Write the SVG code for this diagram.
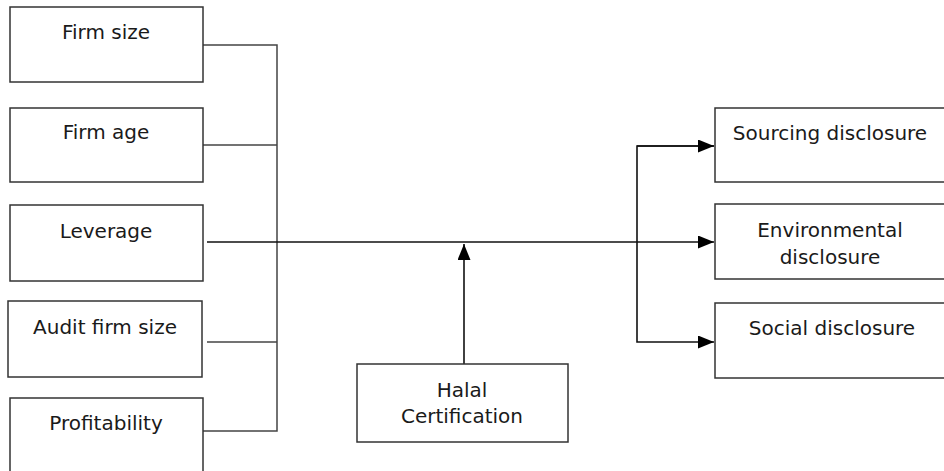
<svg xmlns="http://www.w3.org/2000/svg" width="944" height="471" viewBox="0 0 944 471">
<style>
.box{fill:#fff;stroke:#333;stroke-width:1.5}
.lbl{font-family:"DejaVu Sans",Verdana,sans-serif;font-size:20px;fill:#1a1a1a;text-anchor:middle}
.ln{fill:none;stroke:#444;stroke-width:1.5}
.ar{fill:none;stroke:#111;stroke-width:1.6}
</style>
<defs>
<marker id="ahb" viewBox="0 0 16 13" refX="16" refY="6.5" markerWidth="16" markerHeight="13" markerUnits="userSpaceOnUse" orient="auto">
<path d="M0,0 L16,6.5 L0,13 Z" fill="#000"/>
</marker>
</defs>
<rect width="944" height="471" fill="#fff"/>
<g id="connectors">
<path class="ln" d="M203,45 H277 V431 H203"/>
<path class="ln" d="M203,145 H277"/>
<path class="ln" d="M207,342 H277"/>
<path class="ar" d="M207,242 H714" marker-end="url(#ahb)"/>
<path class="ar" d="M714,146 H637 V342 H714" marker-end="url(#ahb)"/>
<path class="ar" d="M637,146 H714" marker-end="url(#ahb)"/>
<path class="ar" d="M464,364 V244" marker-end="url(#ahb)"/>
</g>
<g id="firm-size"><rect class="box" x="10" y="7" width="193" height="75"/><text class="lbl" x="106" y="39">Firm size</text></g>
<g id="firm-age"><rect class="box" x="10" y="108" width="193" height="74"/><text class="lbl" x="106" y="139">Firm age</text></g>
<g id="leverage"><rect class="box" x="10" y="205" width="193" height="76"/><text class="lbl" x="106" y="238">Leverage</text></g>
<g id="audit-firm-size"><rect class="box" x="8" y="301" width="194" height="76"/><text class="lbl" x="105" y="334">Audit firm size</text></g>
<g id="profitability"><rect class="box" x="10" y="398" width="193" height="80"/><text class="lbl" x="106" y="430">Profitability</text></g>
<g id="halal-certification"><rect class="box" x="357" y="364" width="211" height="78"/><text class="lbl" x="462" y="397">Halal</text><text class="lbl" x="462" y="423">Certification</text></g>
<g id="sourcing-disclosure"><rect class="box" x="715" y="108" width="240" height="74"/><text class="lbl" x="830" y="140">Sourcing disclosure</text></g>
<g id="environmental-disclosure"><rect class="box" x="715" y="204" width="240" height="75"/><text class="lbl" x="830" y="237">Environmental</text><text class="lbl" x="830" y="264">disclosure</text></g>
<g id="social-disclosure"><rect class="box" x="715" y="303" width="240" height="75"/><text class="lbl" x="832" y="335">Social disclosure</text></g>
</svg>
